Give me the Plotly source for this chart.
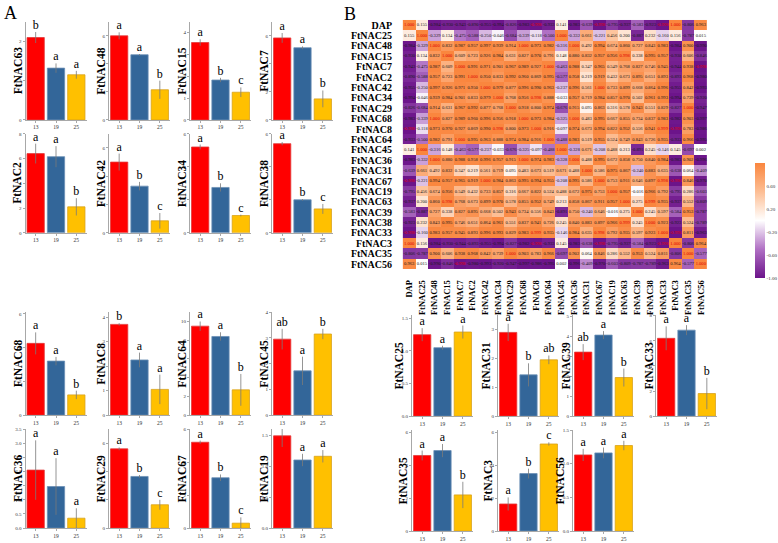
import plotly.graph_objects as go

W, H = 778, 543
SERIF = "Liberation Serif, Times New Roman, serif"
days = ["13", "19", "25"]

# ---------------- Panel A bar data ----------------
genes_a = ["FtNAC63", "FtNAC48", "FtNAC15", "FtNAC7",
           "FtNAC2", "FtNAC42", "FtNAC34", "FtNAC38",
           "FtNAC68", "FtNAC8", "FtNAC64", "FtNAC45",
           "FtNAC36", "FtNAC29", "FtNAC67", "FtNAC19"]
means_a = [[2.10, 1.32, 1.15], [6.0, 4.65, 2.15], [3.55, 1.83, 1.27], [5.85, 5.15, 1.5],
           [6.4, 6.15, 2.1], [5.0, 3.3, 0.85], [5.2, 2.75, 1.05], [5.4, 2.0, 1.45],
           [4.25, 3.2, 1.2], [3.7, 2.25, 1.05], [9.5, 8.4, 2.7], [2.95, 1.72, 3.15],
           [2.05, 1.47, 0.35], [5.6, 3.65, 1.65], [5.2, 3.05, 0.3], [1.49, 1.10, 1.16]]
errs_a = [[0.14, 0.12, 0.10], [0.25, 0.05, 0.65], [0.15, 0.10, 0.22], [0.35, 0.10, 0.6],
          [0.8, 0.85, 0.7], [0.6, 0.3, 0.55], [0.15, 0.25, 0.05], [0.1, 0.05, 0.3],
          [0.65, 0.25, 0.25], [0.05, 0.3, 0.6], [0.5, 0.45, 1.7], [0.4, 0.55, 0.2],
          [1.05, 1.0, 0.35], [0.1, 0.1, 0.35], [0.1, 0.2, 0.35], [0.18, 0.1, 0.1]]
letters_a = [["b", "a", "a"], ["a", "a", "b"], ["a", "b", "c"], ["a", "a", "b"],
             ["a", "a", "b"], ["a", "b", "c"], ["a", "b", "c"], ["a", "b", "c"],
             ["a", "a", "b"], ["b", "a", "a"], ["a", "a", "b"], ["ab", "a", "b"],
             ["a", "a", "a"], ["a", "b", "c"], ["a", "b", "c"], ["b", "a", "a"]]
ymax_a = [2.5, 7, 4.5, 7, 8, 7, 6, 6, 6.1, 4.2, 11, 4, 3.5, 7, 6, 1.6]
dtick_a = [1, 2, 1, 2, 2, 2, 2, 2, 2, 1, 2, 1, 0.5, 2, 2, 0.5]

# ---------------- Panel B bar data ----------------
genes_b = ["FtNAC25", "FtNAC31", "FtNAC39", "FtNAC33", "FtNAC35", "FtNAC3", "FtNAC56"]
means_b = [[1.25, 1.05, 1.29], [2.9, 1.43, 1.95], [3.2, 4.05, 1.93], [6.2, 6.85, 1.8],
           [4.6, 4.9, 2.2], [1.65, 3.5, 5.3], [1.13, 1.16, 1.27]]
errs_b = [[0.1, 0.03, 0.1], [0.3, 0.4, 0.15], [0.4, 0.2, 0.45], [0.95, 0.4, 1.25],
          [0.3, 0.4, 0.8], [0.4, 0.3, 0.1], [0.09, 0.08, 0.07]]
letters_b = [["a", "a", "a"], ["a", "b", "ab"], ["ab", "a", "b"], ["a", "a", "b"],
             ["a", "a", "b"], ["a", "b", "c"], ["a", "a", "a"]]
ymax_b = [1.55, 3.5, 5.05, 8.05, 6.15, 6.15, 1.5]
dtick_b = [0.5, 1, 1, 2, 2, 2, 0.5]

# ---------------- Correlation heatmap data (upper triangle rows) ----------------
hm_labels = ["DAP", "FtNAC25", "FtNAC48", "FtNAC15", "FtNAC7", "FtNAC2", "FtNAC42", "FtNAC34",
             "FtNAC29", "FtNAC68", "FtNAC8", "FtNAC64", "FtNAC45", "FtNAC36", "FtNAC31", "FtNAC67",
             "FtNAC19", "FtNAC63", "FtNAC39", "FtNAC38", "FtNAC33", "FtNAC3", "FtNAC35", "FtNAC56"]
corr_upper = [
    [1.000, 0.155, -0.984, -0.930, -0.943, -0.890, -0.955, -0.994, -0.826, -0.983, -0.998, -0.933, 0.141, -0.983, -0.639, -0.998, -0.795, -0.937, -0.583, -0.923, -0.998, 1.000, -0.806, 0.963],
    [1.000, -0.329, 0.134, -0.475, -0.588, -0.250, -0.046, -0.684, -0.339, -0.118, -0.500, 1.000, -0.332, 0.661, -0.221, 0.456, 0.200, -0.887, 0.232, -0.160, 0.156, -0.787, 0.015],
    [1.000, 0.832, 0.987, 0.957, 0.997, 0.939, 0.914, 1.000, 0.973, 0.982, -0.316, 1.000, 0.492, 0.994, 0.674, 0.860, 0.727, 0.843, 0.983, -0.984, 0.900, -0.990],
    [1.000, 0.609, 0.723, 0.926, 0.984, 0.631, 0.827, 0.970, 0.791, 0.148, 0.880, 0.832, 0.957, 0.956, 0.998, 0.338, 0.995, 0.957, -0.930, 0.606, -0.846],
    [1.000, 0.991, 0.971, 0.901, 0.967, 0.989, 0.927, 1.000, -0.463, 0.988, 0.347, 0.965, 0.549, 0.768, 0.827, 0.746, 0.945, -0.944, 0.938, -0.998],
    [1.000, 0.950, 0.833, 0.992, 0.960, 0.869, 0.995, -0.577, 0.958, 0.219, 0.919, 0.432, 0.673, 0.895, 0.651, 0.893, -0.893, 0.968, -0.980],
    [1.000, 0.979, 0.877, 0.996, 0.990, 0.963, -0.237, 0.996, 0.561, 1.000, 0.733, 0.899, 0.668, 0.864, 0.996, -0.955, 0.842, -0.993],
    [1.000, 0.768, 0.956, 0.998, 0.888, -0.033, 0.957, 0.719, 0.984, 0.857, 0.970, 0.502, 0.961, 0.993, -0.994, 0.739, -0.920],
    [1.000, 0.918, 0.800, 0.974, -0.676, 0.915, 0.095, 0.863, 0.316, 0.578, 0.943, 0.551, 0.829, -0.827, 1.000, -0.947],
    [1.000, 0.973, 0.984, -0.325, 1.000, 0.483, 0.995, 0.667, 0.855, 0.734, 0.837, 0.983, -0.982, 0.903, -0.997],
    [1.000, 0.916, -0.097, 0.974, 0.673, 0.994, 0.822, 0.952, 0.556, 0.941, 0.999, -0.998, 0.783, -0.986],
    [1.000, -0.488, 0.983, 0.519, 0.955, 0.524, 0.749, 0.843, 0.726, 0.935, -0.933, 0.966, -0.995],
    [1.000, -0.328, 0.671, -0.208, 0.488, 0.213, -0.891, 0.245, -0.146, 0.145, -0.697, 0.002],
    [1.000, 0.488, 0.995, 0.672, 0.858, 0.750, 0.840, 0.984, -0.983, 0.902, -0.996],
    [1.000, 0.586, 0.975, 0.867, -0.240, 0.883, 0.635, -0.638, 0.064, -0.409],
    [1.000, 0.753, 0.911, 0.646, 0.897, 0.998, -0.998, 0.846, -0.970],
    [1.000, 0.957, -0.016, 0.966, 0.792, -0.795, 0.286, -0.603],
    [1.000, 0.275, 0.999, 0.935, -0.937, 0.552, -0.809],
    [1.000, 0.245, 0.597, -0.584, 0.953, -0.787],
    [1.000, 0.923, -0.923, 0.524, -0.789],
    [1.000, -0.998, 0.811, -0.963],
    [1.000, -0.806, 0.964],
    [1.000, -0.577],
    [1.000],
]
cbar_vals = [-1.0, -0.6, -0.2, 0.2, 0.6]
cbar_text = ["-1.00", "-0.60", "-0.20", "0.20", "0.60"]

# ---------------- build full symmetric matrix ----------------
n = len(hm_labels)
corr = [[0.0] * n for _ in range(n)]
for i, row in enumerate(corr_upper):
    for k, v in enumerate(row):
        j = i + k
        corr[i][j] = v
        corr[j][i] = v

fig = go.Figure()
layout = {}
annotations = []

# heatmap
colorscale = [[0.0, "rgb(108,20,138)"], [0.25, "rgb(176,112,196)"], [0.5, "rgb(255,255,255)"],
              [0.75, "rgb(253,190,148)"], [1.0, "rgb(250,134,62)"]]
fig.add_trace(go.Heatmap(
    z=corr, x=hm_labels, y=hm_labels, zmin=-1, zmax=1, colorscale=colorscale,
    xaxis="x", yaxis="y", hoverinfo="skip",
    colorbar=dict(x=755 / W, xanchor="left", y=1 - 220.5 / H, yanchor="middle",
                  len=115, lenmode="pixels", thickness=10, thicknessmode="pixels",
                  tickvals=cbar_vals, ticktext=cbar_text, outlinewidth=0,
                  ticks="", xpad=0, ypad=0,
                  tickfont=dict(family=SERIF, size=5, color="#333"))))
tx, ty, tt, tc = [], [], [], []
for i in range(n):
    for j in range(n):
        v = corr[i][j]
        tx.append(hm_labels[j]); ty.append(hm_labels[i])
        tt.append(f"{v:.3f}")
        tc.append("#E00000" if abs(v) >= 0.998 else "#1a1a1a")
fig.add_trace(go.Scatter(x=tx, y=ty, mode="text", text=tt, xaxis="x", yaxis="y",
                         textfont=dict(family=SERIF, size=4.6, color=tc),
                         hoverinfo="skip", showlegend=False))
layout["xaxis"] = dict(domain=[393 / W, 717 / W], anchor="y", tickangle=-90, ticks="",
                       tickmode="linear", tick0=0, dtick=1,
                       tickfont=dict(family=SERIF, size=8.5, color="black", weight="bold"),
                       showline=False, showgrid=False, zeroline=False, type="category")
layout["yaxis"] = dict(domain=[1 - 278 / H, 1 - 10 / H], anchor="x", autorange="reversed", ticks="",
                       tickmode="linear", tick0=0, dtick=1,
                       tickfont=dict(family=SERIF, size=10, color="black", weight="bold"),
                       showline=False, showgrid=False, zeroline=False, type="category")

bar_colors = ["#FF0000", "#336699", "#FFC000"]
bar_lines = ["#E23A3A", "#6B8FB5", "#D8A21C"]


def add_chart(idx, gene, means, errs, letters, ax_x, top, bot, ymax, dtick, label_dx):
    xa, ya = f"x{idx}", f"y{idx}"
    fig.add_trace(go.Bar(x=days, y=means, xaxis=xa, yaxis=ya,
                         marker=dict(color=bar_colors, line=dict(color=bar_lines, width=0.8)),
                         error_y=dict(type="data", array=errs, color="#7A7A7A", thickness=0.8, width=0),
                         showlegend=False, hoverinfo="skip"))
    fig.add_trace(go.Scatter(x=days, y=[m + e for m, e in zip(means, errs)], mode="text",
                             text=letters, textposition="top center", cliponaxis=False,
                             textfont=dict(family=SERIF, size=12, color="black"),
                             xaxis=xa, yaxis=ya, showlegend=False, hoverinfo="skip"))
    fmt = ".1f" if dtick < 1 else "d"
    layout[f"xaxis{idx}"] = dict(domain=[ax_x / W, (ax_x + 61) / W], anchor=ya, type="category",
                                 showline=True, linecolor="#A8A8A8", linewidth=0.8,
                                 ticks="outside", ticklen=2, tickcolor="#A8A8A8", tickwidth=0.8,
                                 tickfont=dict(family=SERIF, size=5.5, color="#333"),
                                 showgrid=False, zeroline=False)
    layout[f"yaxis{idx}"] = dict(domain=[1 - bot / H, 1 - top / H], anchor=xa, range=[0, ymax],
                                 dtick=dtick, tickformat=fmt,
                                 showline=True, linecolor="#A8A8A8", linewidth=0.8,
                                 ticks="outside", ticklen=2, tickcolor="#A8A8A8", tickwidth=0.8,
                                 tickfont=dict(family=SERIF, size=5, color="#333"),
                                 showgrid=False, zeroline=False)
    annotations.append(dict(text=f"<b>{gene}</b>", x=(ax_x + label_dx) / W, y=1 - (top + bot) / 2 / H,
                            xref="paper", yref="paper", textangle=-90, showarrow=False,
                            xanchor="center", yanchor="middle",
                            font=dict(family=SERIF, size=11.5, color="black")))


cols_a = [25.5, 109, 190, 272]
rows_a = [(20, 119), (133, 233), (313, 417), (431, 531)]
idx = 2
for k in range(16):
    r, c = divmod(k, 4)
    add_chart(idx, genes_a[k], means_a[k], errs_a[k], letters_a[k], cols_a[c],
              rows_a[r][0], rows_a[r][1], ymax_a[k], dtick_a[k], -8)
    idx += 1

pos_b = [(412, 0), (498, 0), (573, 0), (656, 0), (412, 1), (498, 1), (573, 1)]
rows_b = [(316, 418), (432, 534)]
dx_b = [-13, -12, -7, -7, -9, -10, -13]
for k in range(7):
    ax_x, r = pos_b[k]
    add_chart(idx, genes_b[k], means_b[k], errs_b[k], letters_b[k], ax_x,
              rows_b[r][0], rows_b[r][1], ymax_b[k], dtick_b[k], dx_b[k])
    idx += 1

annotations.append(dict(text="A", x=2 / W, y=1 - 11 / H, xref="paper", yref="paper", showarrow=False,
                        xanchor="left", yanchor="middle", font=dict(family=SERIF, size=18, color="black")))
annotations.append(dict(text="B", x=342 / W, y=1 - 12 / H, xref="paper", yref="paper", showarrow=False,
                        xanchor="left", yanchor="middle", font=dict(family=SERIF, size=18, color="black")))

fig.update_layout(**layout)
fig.update_layout(width=W, height=H, margin=dict(l=0, r=0, t=0, b=0), autosize=False,
                  paper_bgcolor="white", plot_bgcolor="white", bargap=0.15,
                  annotations=annotations, showlegend=False)

fig.write_html("out.html", config={"displayModeBar": False},
               post_script="document.body.style.margin='0px';")
